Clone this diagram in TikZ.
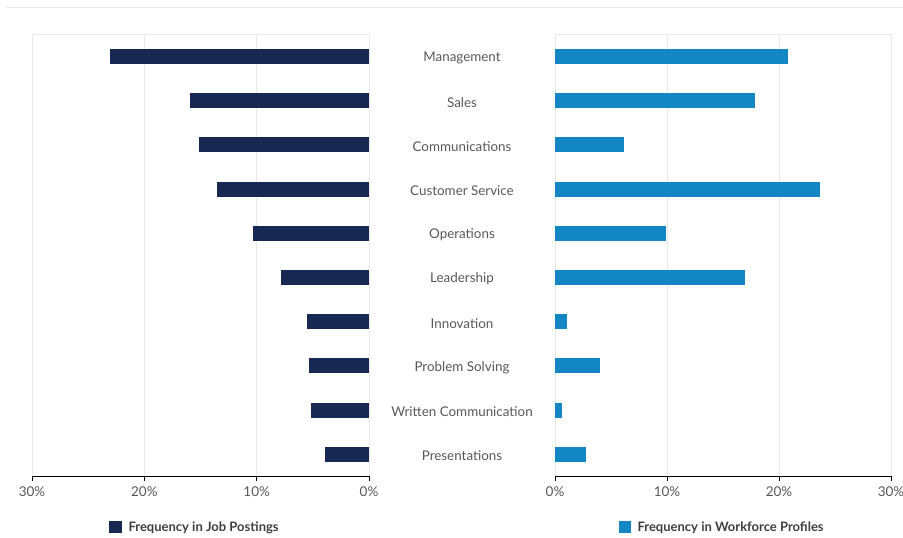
\documentclass[tikz,border=0pt]{standalone}
\usepackage{fontspec}
\setmainfont{Lato}
\definecolor{postnavy}{RGB}{23,41,82}
\definecolor{profblue}{RGB}{19,134,196}
\definecolor{gridgray}{RGB}{232,232,232}
\definecolor{labelgray}{RGB}{88,88,88}

\begin{document}
\begin{tikzpicture}[x=1pt, y=-1pt,
    gridline/.style={gridgray, line width=0.8pt},
    skill/.style={font=\fontsize{13.4}{15}\selectfont, text=labelgray},
    ticklabel/.style={font=\fontsize{13.5}{15}\selectfont, text=labelgray},
    legendtext/.style={font=\bfseries\fontsize{13}{15}\selectfont, text=labelgray!70!black, anchor=west}]
    \useasboundingbox (0,0) rectangle (903,538);

    % rule across the top
    \draw[gridgray, line width=1pt] (6,7.5) -- (903,7.5);

    % plot frames and grid lines
    \draw[gridline] (32,34) -- (369,34);
    \draw[gridline] (555,34) -- (891,34);
    \foreach \t in {0,10,20,30} {
        \draw[gridline] ({369-11.233*\t},34) -- ({369-11.233*\t},476);
        \draw[gridline] ({555+11.2*\t},34) -- ({555+11.2*\t},476);
    }

    % bars and skill names
    \foreach \lab/\l/\r [count=\i from 0] in {
        Management/23.1/20.8, Sales/15.9/17.9, Communications/15.1/6.2,
        Customer Service/13.5/23.7, Operations/10.3/9.9, Leadership/7.8/17.0,
        Innovation/5.5/1.1, Problem Solving/5.3/4.0,
        Written Communication/5.2/0.6, Presentations/3.9/2.8} {
        \pgfmathsetmacro\y{56.5+44.2*\i}
        \fill[postnavy] ({369-11.233*\l},{\y-7.5}) rectangle (369,{\y+7.5});
        \fill[profblue] (555,{\y-7.5}) rectangle ({555+11.2*\r},{\y+7.5});
        \node[skill] (skill\i) at (462,{\y+1.5}) {\lab};
    }

    % axes with ticks
    \draw[black, line width=0.9pt] (32,476) -- (369,476);
    \draw[black, line width=0.9pt] (555,476) -- (891,476);
    \foreach \t in {0,10,20,30} {
        \draw[black, line width=0.9pt] ({369-11.233*\t},476) -- ({369-11.233*\t},481);
        \draw[black, line width=0.9pt] ({555+11.2*\t},476) -- ({555+11.2*\t},481);
        \node[ticklabel] (ltick\t) at ({369-11.233*\t},492) {\t\%};
        \node[ticklabel] (rtick\t) at ({555+11.2*\t},492) {\t\%};
    }

    % legends
    \fill[postnavy] (109,520.5) rectangle (122,533);
    \node[legendtext] (legpost) at (125,527.5) {Frequency in Job Postings};
    \fill[profblue] (619,520.5) rectangle (631,533);
    \node[legendtext] (legprof) at (634,527.5) {Frequency in Workforce Profiles};
\end{tikzpicture}
\end{document}
